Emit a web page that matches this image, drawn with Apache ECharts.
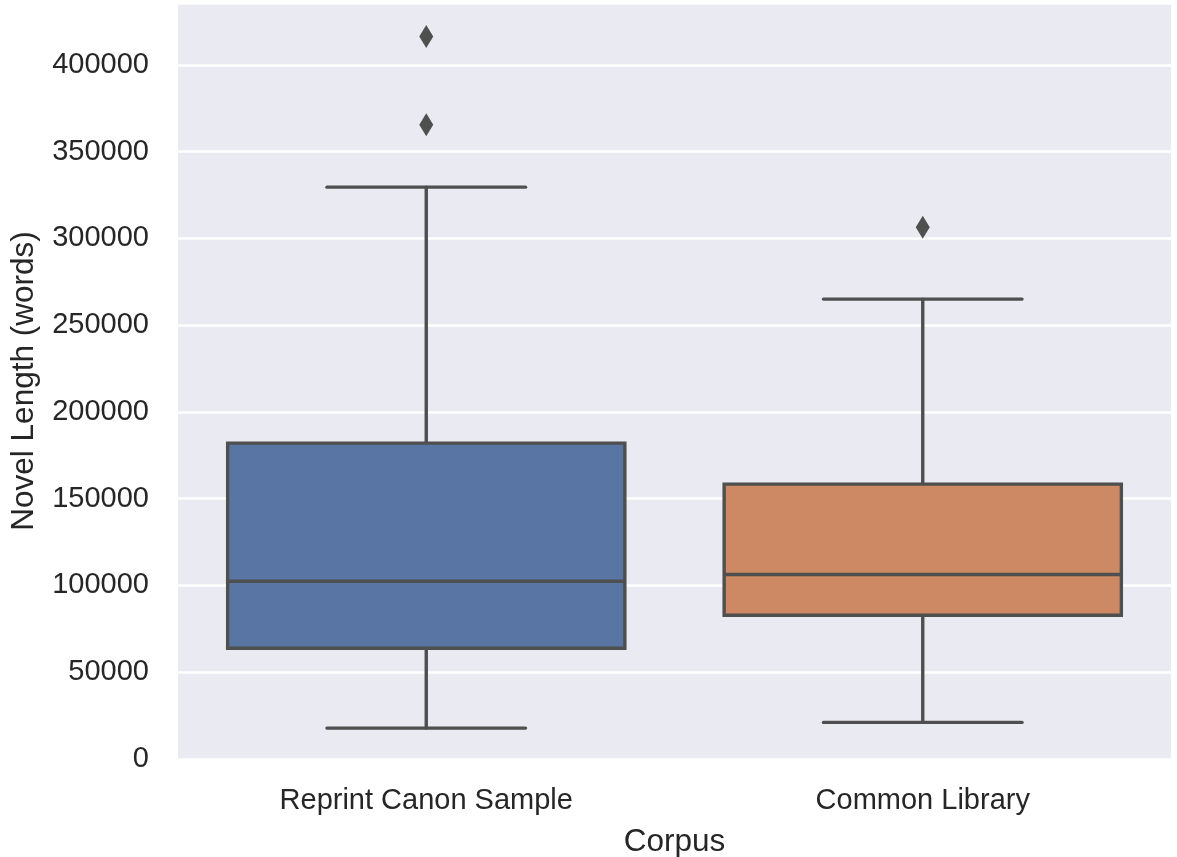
<!DOCTYPE html>
<html>
<head>
<meta charset="utf-8">
<script src="https://cdn.jsdelivr.net/npm/echarts@6/dist/echarts.min.js"></script>
<style>
html,body{margin:0;padding:0;background:#fff;}
#chart{width:1177px;height:857px;}
</style>
</head>
<body>
<div id="chart"></div>
<script>
// Categories and box statistics
const categories = ['Reprint Canon Sample', 'Common Library'];
const lowerWhisker = [17800, 21100];
const q1 = [63800, 82800];
const median = [102400, 106300];
const q3 = [182000, 158400];
const upperWhisker = [329500, 265000];
const boxColors = ['#5975a4', '#cc8963'];
// Outliers: [category index, value]
const outliers = [[0, 416300], [0, 365400], [1, 306400]];
const yTicks = { min: 0, max: 435600, interval: 50000 };

const lineColor = '#4f4f4f';
const textColor = '#262626';
const font = 'Liberation Sans, Arial, sans-serif';

const boxData = categories.map((c, i) => [i, lowerWhisker[i], q1[i], median[i], q3[i], upperWhisker[i]]);

function renderBox(params, api) {
  const idx = api.value(0);
  const band = api.size([1, 0])[0];
  const bw = band * 0.8;
  const cw = bw * 0.5;
  const pLow = api.coord([idx, api.value(1)]);
  const pQ1 = api.coord([idx, api.value(2)]);
  const pMed = api.coord([idx, api.value(3)]);
  const pQ3 = api.coord([idx, api.value(4)]);
  const pHigh = api.coord([idx, api.value(5)]);
  const cx = pQ1[0];
  const stroke = { stroke: lineColor, lineWidth: 3.4, lineCap: 'round' };
  return {
    type: 'group',
    children: [
      { type: 'line', shape: { x1: cx, y1: pQ3[1], x2: cx, y2: pHigh[1] }, style: stroke },
      { type: 'line', shape: { x1: cx, y1: pQ1[1], x2: cx, y2: pLow[1] }, style: stroke },
      { type: 'line', shape: { x1: cx - cw / 2, y1: pHigh[1], x2: cx + cw / 2, y2: pHigh[1] }, style: stroke },
      { type: 'line', shape: { x1: cx - cw / 2, y1: pLow[1], x2: cx + cw / 2, y2: pLow[1] }, style: stroke },
      { type: 'rect', shape: { x: cx - bw / 2, y: pQ3[1], width: bw, height: pQ1[1] - pQ3[1] },
        style: { fill: boxColors[idx], stroke: lineColor, lineWidth: 3.4 } },
      { type: 'line', shape: { x1: cx - bw / 2, y1: pMed[1], x2: cx + bw / 2, y2: pMed[1] },
        style: { stroke: lineColor, lineWidth: 3.4 } }
    ]
  };
}

const chart = echarts.init(document.getElementById('chart'));
chart.setOption({
  animation: false,
  backgroundColor: '#ffffff',
  grid: {
    left: 178, right: 6, top: 3, bottom: 98,
    containLabel: false,
    outerBoundsMode: 'none',
    show: true, backgroundColor: '#eaeaf2', borderWidth: 0
  },
  xAxis: {
    type: 'category',
    data: categories,
    axisLine: { show: false },
    axisTick: { show: false },
    splitLine: { show: false },
    axisLabel: { fontSize: 29, color: textColor, fontFamily: font, margin: 27 },
    name: 'Corpus',
    nameLocation: 'middle',
    nameGap: 67,
    nameTextStyle: { fontSize: 31.5, color: textColor, fontFamily: font }
  },
  yAxis: {
    type: 'value',
    min: yTicks.min,
    max: yTicks.max,
    interval: yTicks.interval,
    axisLine: { show: false },
    axisTick: { show: false },
    splitLine: { show: true, lineStyle: { color: '#ffffff', width: 2.5 } },
    axisLabel: { fontSize: 29, color: textColor, fontFamily: font, margin: 29, showMaxLabel: false,
      formatter: v => String(v) },
    name: 'Novel Length (words)',
    nameLocation: 'middle',
    nameGap: 138,
    nameTextStyle: { fontSize: 31.5, color: textColor, fontFamily: font }
  },
  series: [
    {
      type: 'custom',
      renderItem: renderBox,
      encode: { x: 0, y: [1, 2, 3, 4, 5] },
      data: boxData,
      z: 2
    },
    {
      type: 'scatter',
      data: outliers,
      symbol: 'diamond',
      symbolSize: [14, 23],
      itemStyle: { color: lineColor, opacity: 1 },
      z: 3
    }
  ]
});
</script>
</body>
</html>
